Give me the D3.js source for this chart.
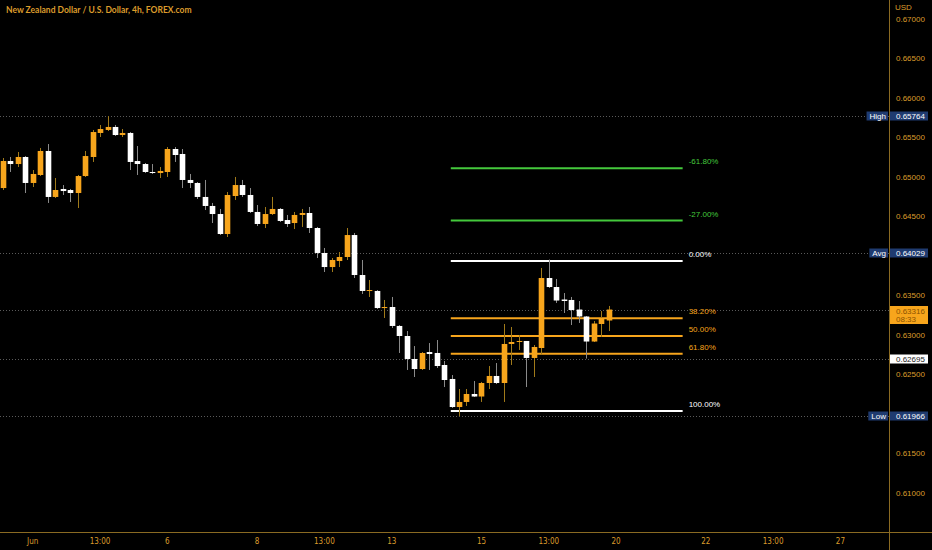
<!DOCTYPE html>
<html><head><meta charset="utf-8">
<script src="https://cdn.jsdelivr.net/npm/d3@7/dist/d3.min.js"></script>
<style>html,body{margin:0;padding:0;background:#000;}svg{display:block;}</style>
</head><body>
<svg id="c" width="932" height="550"></svg>
<script>
// ---- data ----
const title = "New Zealand Dollar / U.S. Dollar, 4h, FOREX.com";
const barIndex = d3.range(-4, 78);
const opens  = [0.64854,0.65196,0.65158,0.65247,0.64918,0.65019,0.65323,0.64741,0.64842,0.64829,0.64791,0.65006,0.65247,0.65551,0.65589,0.65627,0.65525,0.65551,0.65196,0.65158,0.65057,0.65044,0.65057,0.65348,0.65285,0.64956,0.64918,0.64741,0.64627,0.64525,0.64272,0.64753,0.64892,0.64766,0.64551,0.64399,0.64525,0.64589,0.64449,0.64411,0.64513,0.64538,0.64348,0.64032,0.63854,0.63930,0.63981,0.64259,0.63753,0.63551,0.63551,0.63335,0.63348,0.63108,0.62981,0.62690,0.62563,0.62778,0.62766,0.62614,0.62437,0.62082,0.62146,0.62247,0.62215,0.62386,0.62475,0.62386,0.62880,0.62905,0.62918,0.62703,0.62829,0.63715,0.63601,0.63443,0.63437,0.63316,0.63228,0.62911,0.63133,0.63177];
const highs  = [0.65234,0.65247,0.65310,0.65259,0.65082,0.65361,0.65411,0.64981,0.64892,0.64842,0.65019,0.65323,0.65589,0.65652,0.65764,0.65652,0.65601,0.65563,0.65386,0.65171,0.65158,0.65120,0.65373,0.65373,0.65348,0.65032,0.64930,0.64956,0.64665,0.64589,0.64804,0.64994,0.64956,0.64854,0.64639,0.64614,0.64741,0.64601,0.64513,0.64551,0.64589,0.64614,0.64361,0.64095,0.63968,0.64044,0.64348,0.64285,0.63943,0.63690,0.63563,0.63437,0.63475,0.63120,0.63044,0.62854,0.62778,0.62892,0.62930,0.62665,0.62487,0.62310,0.62310,0.62411,0.62399,0.62601,0.62639,0.63133,0.63095,0.62994,0.62918,0.62867,0.63842,0.63949,0.63703,0.63525,0.63475,0.63424,0.63234,0.63171,0.63297,0.63361];
const lows   = [0.64829,0.65057,0.65120,0.64791,0.64867,0.65006,0.64665,0.64728,0.64766,0.64677,0.64601,0.64994,0.65184,0.65500,0.65576,0.65513,0.65500,0.65082,0.65019,0.65044,0.65032,0.64981,0.64994,0.65184,0.64854,0.64854,0.64715,0.64576,0.64411,0.64259,0.64234,0.64703,0.64741,0.64538,0.64373,0.64348,0.64513,0.64424,0.64361,0.64335,0.64361,0.64285,0.63968,0.63791,0.63791,0.63854,0.63943,0.63715,0.63513,0.63475,0.63323,0.63209,0.63082,0.62766,0.62551,0.62462,0.62551,0.62551,0.62576,0.62335,0.62070,0.61966,0.62095,0.62209,0.62146,0.62310,0.62373,0.62146,0.62614,0.62804,0.62335,0.62462,0.62741,0.63589,0.63399,0.63272,0.63120,0.63146,0.62695,0.62905,0.62968,0.63044];
const closes = [0.65196,0.65158,0.65247,0.64918,0.65032,0.65323,0.64741,0.64829,0.64816,0.64791,0.65006,0.65259,0.65563,0.65601,0.65627,0.65525,0.65551,0.65184,0.65158,0.65057,0.65044,0.65070,0.65348,0.65272,0.64956,0.64918,0.64741,0.64627,0.64525,0.64272,0.64766,0.64892,0.64766,0.64551,0.64399,0.64525,0.64589,0.64437,0.64399,0.64513,0.64538,0.64348,0.64032,0.63854,0.63943,0.63981,0.64259,0.63753,0.63551,0.63563,0.63335,0.63348,0.63108,0.62981,0.62690,0.62563,0.62766,0.62753,0.62601,0.62424,0.62082,0.62146,0.62247,0.62215,0.62386,0.62475,0.62386,0.62880,0.62905,0.62918,0.62703,0.62842,0.63715,0.63601,0.63430,0.63424,0.63310,0.63228,0.62911,0.63139,0.63209,0.63316];

const priceTicks = [0.670,0.665,0.660,0.655,0.650,0.645,0.635,0.630,0.625,0.615,0.610];
const timeTickIndex = [0,9,18,30,39,48,60,69,78,90,99,108];
const timeTickLabels = ["Jun","13:00","6","8","13:00","13","15","13:00","20","22","13:00","27"];

const markerNames  = ["High","Avg","","","Low"];
const markerPrices = [0.65764,0.64029,0.63316,0.62695,0.61966];
const countdown = "08:33";

const fibLevels = [-0.618,-0.27,0,0.382,0.5,0.618,1];
const fibLabels = ["-61.80%","-27.00%","0.00%","38.20%","50.00%","61.80%","100.00%"];
const fibHighPrice = 0.63930, fibLowPrice = 0.62032;
const fibStartIndex = 55.9, fibEndIndex = 86.9;

// ---- layout ----
const W = 932, H = 550, axisX = 889.5, axisY = 532.5;
const ORANGE = "#f7a51c", AXIS_TXT = "#dc9c2c", NAVY = "#1f3b70";
const svg = d3.select("#c");
svg.append("rect").attr("width",W).attr("height",H).attr("fill","#000");

const x = d3.scaleLinear().domain([-4,77]).range([2.8, 608.6]);
const y = d3.scaleLinear().domain([0.61,0.67]).range([492.5,18.5]);
const bodyW = 5.6;

const candles = barIndex.map((idx,k)=>({i:idx,o:opens[k],h:highs[k],l:lows[k],c:closes[k]}));

// dotted marker lines
svg.append("g").selectAll("line").data(markerPrices).join("line")
  .attr("x1",0).attr("x2",axisX).attr("y1",d=>Math.round(y(d))+0.5).attr("y2",d=>Math.round(y(d))+0.5)
  .attr("stroke","#5a5a5a").attr("stroke-width",1).attr("stroke-dasharray","1,2");

// fib
const fibPrice = lv => fibHighPrice - lv*(fibHighPrice - fibLowPrice);
const fibColor = lv => (lv<0 ? "#44c93c" : (lv===0||lv===1) ? "#ffffff" : ORANGE);
const gf = svg.append("g");
gf.selectAll("line").data(fibLevels).join("line")
  .attr("x1",x(fibStartIndex)).attr("x2",x(fibEndIndex))
  .attr("y1",d=>y(fibPrice(d))).attr("y2",d=>y(fibPrice(d)))
  .attr("stroke",fibColor).attr("stroke-width",2);
gf.selectAll("text").data(fibLevels).join("text")
  .attr("x",x(fibEndIndex)+6).attr("y",d=>y(fibPrice(d))-4)
  .attr("fill",fibColor).attr("font-family","Liberation Sans, Arial, sans-serif").attr("font-size",8)
  .text((d,k)=>fibLabels[k]);

// candles
const gc = svg.append("g");
gc.selectAll("line").data(candles).join("line")
  .attr("x1",d=>Math.round(x(d.i))+0.5).attr("x2",d=>Math.round(x(d.i))+0.5)
  .attr("y1",d=>y(d.h)).attr("y2",d=>y(d.l))
  .attr("stroke",d=>d.c>=d.o?"#a07a1a":"#8a8a8a").attr("stroke-width",1);
gc.selectAll("rect").data(candles).join("rect")
  .attr("x",d=>Math.round(x(d.i))+0.5-bodyW/2).attr("width",bodyW)
  .attr("y",d=>y(Math.max(d.o,d.c)))
  .attr("height",d=>Math.max(1,Math.abs(y(d.o)-y(d.c))))
  .attr("fill",d=>d.c>=d.o?ORANGE:"#ffffff");

// axes lines
svg.append("line").attr("x1",0).attr("x2",W).attr("y1",axisY).attr("y2",axisY).attr("stroke","#8a6a22").attr("stroke-width",1);
svg.append("line").attr("x1",axisX).attr("x2",axisX).attr("y1",0).attr("y2",H).attr("stroke","#8a6a22").attr("stroke-width",1);
svg.append("rect").attr("x",axisX+0.5).attr("y",axisY+0.5).attr("width",W).attr("height",H).attr("fill","#000");

// price axis labels
const fontAxis = "Liberation Sans, Arial, sans-serif";
svg.append("g").selectAll("text").data(priceTicks).join("text")
  .attr("x",896).attr("y",d=>y(d)+3).attr("fill",AXIS_TXT).attr("font-family",fontAxis).attr("font-size",8)
  .text(d=>d.toFixed(5));
svg.append("rect").attr("x",892).attr("y",0).attr("width",40).attr("height",14).attr("fill","#000");
svg.append("text").attr("x",895).attr("y",10).attr("fill",AXIS_TXT).attr("font-family",fontAxis).attr("font-size",8).text("USD");

// marker labels
const gm = svg.append("g");
markerPrices.forEach((p,k)=>{
  const yy = Math.round(y(p));
  const name = markerNames[k];
  if (k===2){
    gm.append("rect").attr("x",890).attr("y",yy-4).attr("width",38).attr("height",18).attr("fill",ORANGE);
    gm.append("text").attr("x",896).attr("y",yy+3.5).attr("fill","#8a5200").attr("font-family",fontAxis).attr("font-size",8).text(p.toFixed(5));
    gm.append("text").attr("x",896).attr("y",yy+12).attr("fill","#8a5200").attr("font-family",fontAxis).attr("font-size",8).text(countdown);
  } else if (k===3){
    gm.append("rect").attr("x",890).attr("y",yy-4.5).attr("width",38).attr("height",9).attr("fill","#ffffff");
    gm.append("text").attr("x",896).attr("y",yy+3).attr("fill","#222").attr("font-family",fontAxis).attr("font-size",8).text(p.toFixed(5));
  } else {
    gm.append("rect").attr("x",890).attr("y",yy-4.5).attr("width",38).attr("height",9).attr("fill",NAVY);
    gm.append("text").attr("x",896).attr("y",yy+3).attr("fill","#fff").attr("font-family",fontAxis).attr("font-size",8).text(p.toFixed(5));
    const t = gm.append("text").attr("x",886).attr("y",yy+3).attr("text-anchor","end").attr("fill","#fff").attr("font-family",fontAxis).attr("font-size",8).text(name);
    const tw = t.node().getComputedTextLength();
    gm.insert("rect","text:last-child").attr("x",886-tw-3).attr("y",yy-4.5).attr("width",tw+5).attr("height",9).attr("fill",NAVY);
    t.raise();
  }
});

// time axis labels
svg.append("g").selectAll("text").data(timeTickIndex).join("text")
  .attr("x",d=>x(d)).attr("y",544).attr("text-anchor","middle")
  .attr("fill",AXIS_TXT).attr("font-family","DejaVu Sans Condensed, Liberation Sans Narrow, sans-serif").attr("font-size",8)
  .text((d,k)=>timeTickLabels[k]);

// title
svg.append("text").attr("x",6).attr("y",13).attr("fill",AXIS_TXT)
  .attr("font-family","Lato, sans-serif").attr("font-weight",700).attr("font-size",8.5).text(title);
</script>
</body></html>
